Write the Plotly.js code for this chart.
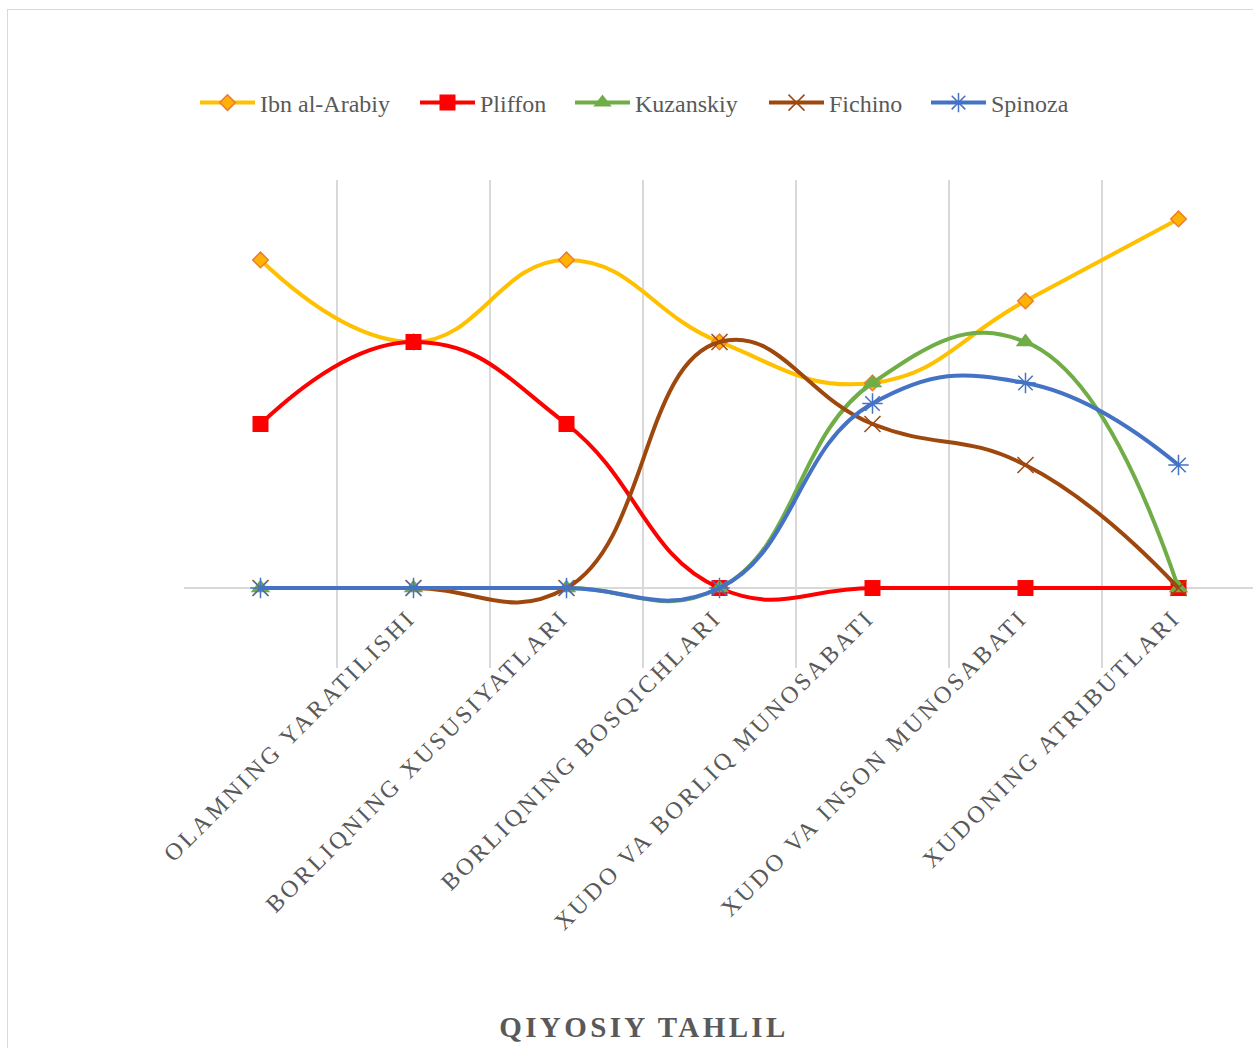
<!DOCTYPE html>
<html>
<head>
<meta charset="utf-8">
<script src="https://cdn.plot.ly/plotly-3.0.1.min.js"></script>
<style>
  html, body { margin: 0; padding: 0; background: #ffffff; }
  #wrap { position: relative; width: 1253px; height: 1048px; overflow: hidden; }
  #frame { position: absolute; left: 7px; top: 9px; width: 1300px; height: 1100px;
           border: 1.5px solid #d9d9d9; box-sizing: border-box; pointer-events: none; z-index: 2; }
  #chart { position: absolute; left: 0; top: 0; width: 1253px; height: 1048px; }
  .x2tick text { letter-spacing: 3.1px; }
  .gtitle { letter-spacing: 3.4px; }
</style>
</head>
<body>
<div id="wrap">
  <div id="chart"></div>
  <div id="frame"></div>
</div>
<script>
const categories = ["", "OLAMNING YARATILISHI", "BORLIQNING XUSUSIYATLARI", "BORLIQNING BOSQICHLARI",
  "XUDO VA BORLIQ MUNOSABATI", "XUDO VA INSON MUNOSABATI", "XUDONING ATRIBUTLARI"];
const seriesNames = ["Ibn al-Arabiy", "Pliffon", "Kuzanskiy", "Fichino", "Spinoza"];
const ibnArabiy = [8, 6, 8, 6, 5, 7, 9];
const pliffon   = [4, 6, 4, 0, 0, 0, 0];
const kuzanskiy = [0, 0, 0, 0, 5, 6, 0];
const fichino   = [0, 0, 0, 6, 4, 3, 0];
const spinoza   = [0, 0, 0, 0, 4.5, 5, 3];
const chartTitle = "QIYOSIY TAHLIL";

const xIdx = categories.map((_, i) => i);
const boundaries = categories.map((_, i) => i - 0.5).concat([categories.length - 0.5]);
const yMin = -1.95, yMax = 9.95;
const xRange = [-0.5, 6.487];

const styles = [
  {color: "#FFC000", symbol: "diamond", size: 12, mfill: "#FFB300", mline: "#ED7D31", mlw: 1.5},
  {color: "#FF0000", symbol: "square", size: 16, mfill: "#FF0000", mline: "#FF0000", mlw: 0},
  {color: "#70AD47", symbol: "triangle-up", size: 17, mfill: "#70AD47", mline: "#70AD47", mlw: 0},
  {color: "#9E480E", symbol: "x-thin-open", size: 16, mfill: "#9E480E", mline: "#9E480E", mlw: 1.5},
  {color: "#4472C4", symbol: "asterisk-open", size: 17, mfill: "#4472C4", mline: "#4472C4", mlw: 1.5}
];
const values = [ibnArabiy, pliffon, kuzanskiy, fichino, spinoza];
const legendStarts = [200, 420, 575, 769, 931];
const legendKeys = ["legend", "legend2", "legend3", "legend4", "legend5"];

const traces = values.map((v, k) => ({
  type: "scatter", mode: "lines+markers", name: seriesNames[k],
  x: xIdx, y: v, legend: legendKeys[k],
  line: {color: styles[k].color, width: 4, shape: "spline", smoothing: 1.3},
  marker: {symbol: styles[k].symbol, size: styles[k].size, color: styles[k].mfill,
           line: {color: styles[k].mline, width: styles[k].mlw}},
  hoverinfo: "x+y"
}));
// helper trace to carry the category label axis
traces.push({type: "scatter", mode: "markers", x: xIdx, y: xIdx.map(() => 0), xaxis: "x2", yaxis: "y",
  marker: {opacity: 0, size: 1}, showlegend: false, hoverinfo: "skip"});

const serif = "Liberation Serif, Times New Roman, serif";
const layout = {
  width: 1253, height: 1048,
  margin: {l: 184, r: 0, t: 180, b: 380},
  paper_bgcolor: "#ffffff", plot_bgcolor: "#ffffff",
  showlegend: true,
  title: {text: chartTitle, font: {family: serif, size: 29, color: "#595959", weight: "bold"},
          xref: "paper", yref: "container", x: (644 - 184) / 1069, xanchor: "center", y: 0.02, yanchor: "middle"},
  xaxis: {type: "linear", range: xRange, tickmode: "array", tickvals: boundaries, showticklabels: false,
          ticks: "", showgrid: true, gridcolor: "#d9d9d9", gridwidth: 1.5, zeroline: false, showline: false,
          fixedrange: true},
  xaxis2: {type: "linear", overlaying: "x", anchor: "free", position: (0 - yMin) / (yMax - yMin),
           range: xRange, tickmode: "array", tickvals: xIdx, ticktext: categories, tickangle: -45,
           ticks: "", showgrid: false, zeroline: false, showline: false, side: "bottom",
           ticklabelstandoff: 10, ticklabelshift: -5,
           tickfont: {family: serif, size: 24, color: "#595959"}, fixedrange: true},
  yaxis: {range: [yMin, yMax], showticklabels: false, showgrid: false, ticks: "",
          zeroline: true, zerolinecolor: "#d9d9d9", zerolinewidth: 1.5, showline: false, fixedrange: true}
};
legendKeys.forEach((key, k) => {
  layout[key] = {orientation: "h", x: (legendStarts[k] - 184 - 5) / 1069, xanchor: "left",
                 y: (668 - 103) / 488, yanchor: "middle",
                 font: {family: serif, size: 24, color: "#595959"}, itemwidth: 55,
                 bgcolor: "rgba(0,0,0,0)", borderwidth: 0};
});

Plotly.newPlot("chart", traces, layout, {displayModeBar: false, staticPlot: true});
</script>
</body>
</html>
